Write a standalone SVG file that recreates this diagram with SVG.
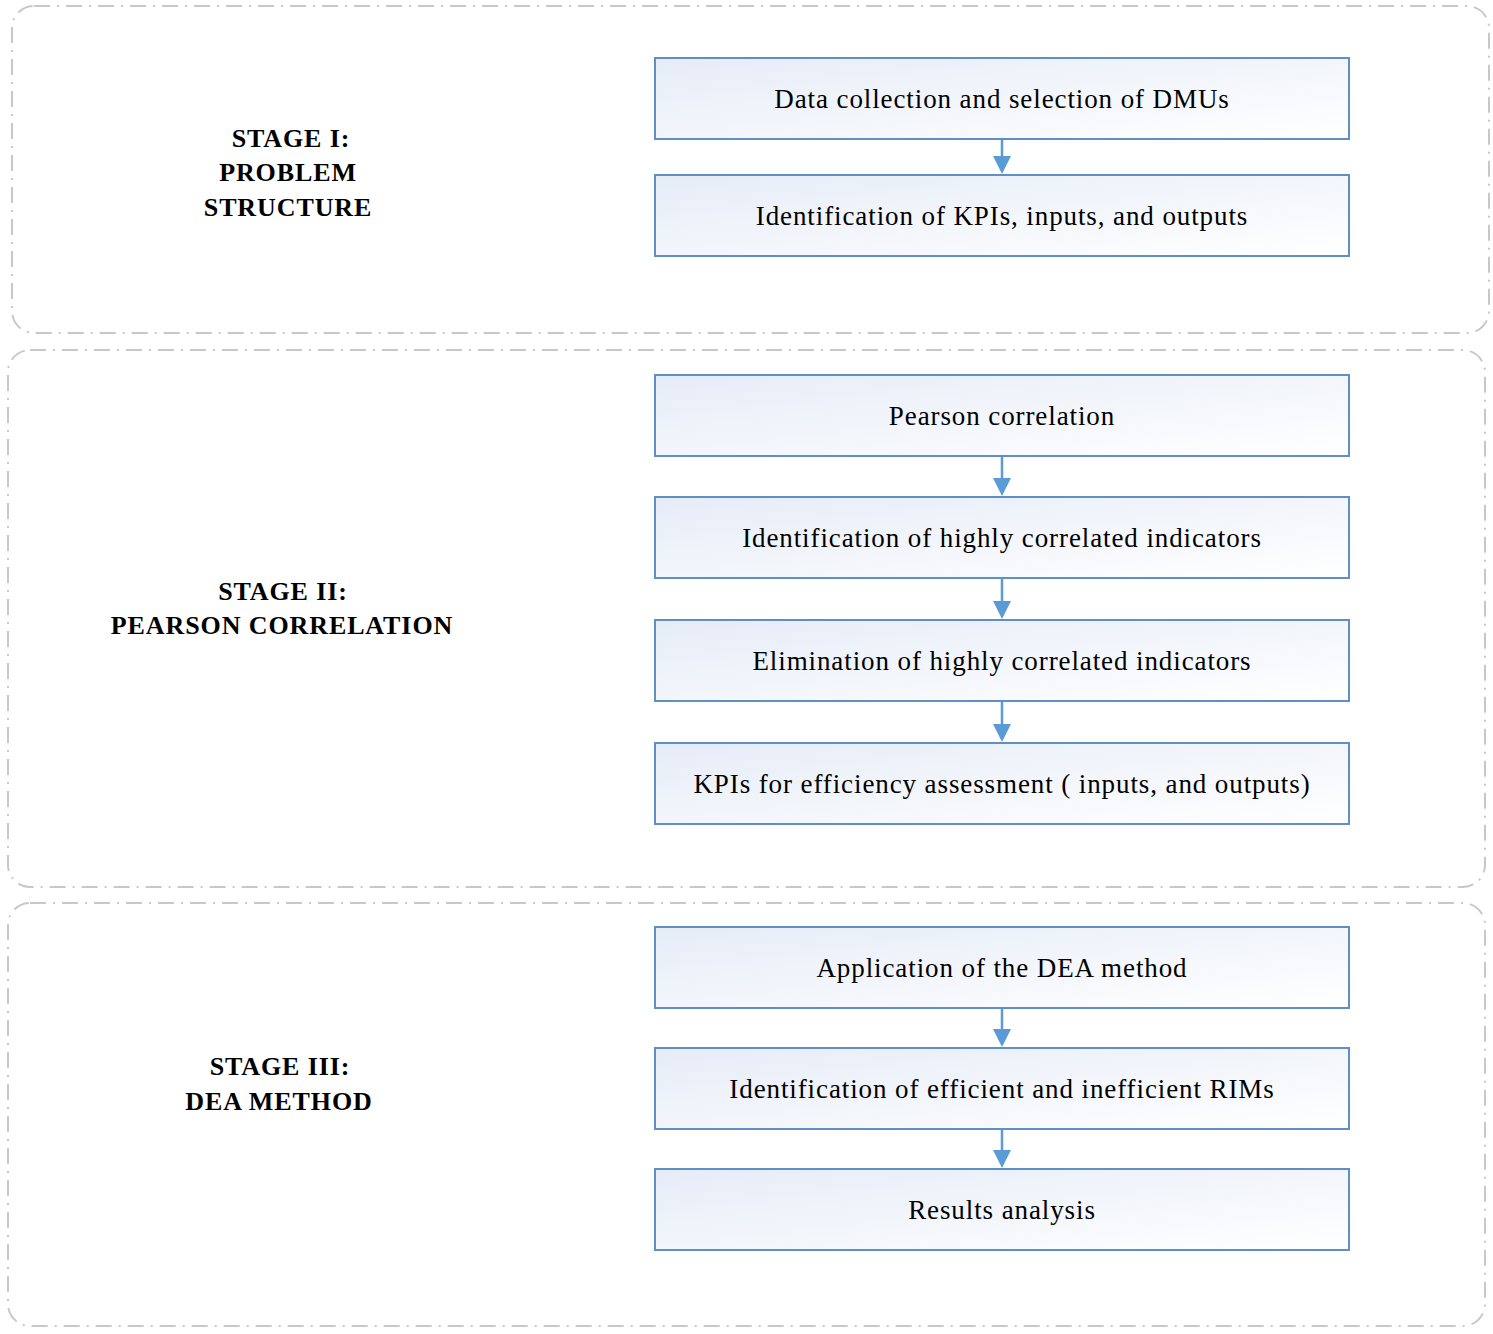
<svg xmlns="http://www.w3.org/2000/svg" width="1493" height="1334" viewBox="0 0 1493 1334">
<style>
.stage{fill:none;stroke:#c8c8c8;stroke-width:2;stroke-dasharray:16 7 2 7}
.box{fill:url(#g);stroke:#5f8fc6;stroke-width:2}
.t{font-family:"Liberation Serif","DejaVu Serif",serif;font-size:27px;letter-spacing:0.9px;fill:#000;text-anchor:middle}
.s{font-family:"Liberation Serif","DejaVu Serif",serif;font-size:26px;letter-spacing:0.9px;font-weight:bold;fill:#000;text-anchor:middle}
.c{stroke:#5b9bd5;stroke-width:2.5;fill:none}
.h{fill:#5b9bd5}
</style>
<defs>
<linearGradient id="g" x1="0" y1="0" x2="1" y2="1">
<stop offset="0" stop-color="#e6ecf7"/>
<stop offset="1" stop-color="#ffffff"/>
</linearGradient>
</defs>
<g id="stage1">
<rect class="stage" x="12" y="6" width="1477" height="327" rx="22"/>
<text class="s" x="291" y="147">STAGE I:</text>
<text class="s" x="288" y="181">PROBLEM</text>
<text class="s" x="288" y="216">STRUCTURE</text>
</g>
<g id="stage2">
<rect class="stage" x="8" y="350" width="1477" height="537" rx="22"/>
<text class="s" x="283" y="600">STAGE II:</text>
<text class="s" x="282" y="634">PEARSON CORRELATION</text>
</g>
<g id="stage3">
<rect class="stage" x="8" y="903" width="1477" height="423" rx="22"/>
<text class="s" x="280" y="1075">STAGE III:</text>
<text class="s" x="279" y="1110">DEA METHOD</text>
</g>
<g id="connectors">
<path class="c" d="M1002 139 V156"/><path class="h" d="M993 156 L1011 156 L1002 174 z"/>
<path class="c" d="M1002 456 V478"/><path class="h" d="M993 478 L1011 478 L1002 496 z"/>
<path class="c" d="M1002 578 V601"/><path class="h" d="M993 601 L1011 601 L1002 619 z"/>
<path class="c" d="M1002 701 V724"/><path class="h" d="M993 724 L1011 724 L1002 742 z"/>
<path class="c" d="M1002 1008 V1029"/><path class="h" d="M993 1029 L1011 1029 L1002 1047 z"/>
<path class="c" d="M1002 1129 V1150"/><path class="h" d="M993 1150 L1011 1150 L1002 1168 z"/>
</g>
<g id="n1"><rect class="box" x="655" y="58" width="694" height="81"/><text class="t" x="1002" y="108">Data collection and selection of DMUs</text></g>
<g id="n2"><rect class="box" x="655" y="175" width="694" height="81"/><text class="t" x="1002" y="225">Identification of KPIs, inputs, and outputs</text></g>
<g id="n3"><rect class="box" x="655" y="375" width="694" height="81"/><text class="t" x="1002" y="425">Pearson correlation</text></g>
<g id="n4"><rect class="box" x="655" y="497" width="694" height="81"/><text class="t" x="1002" y="547">Identification of highly correlated indicators</text></g>
<g id="n5"><rect class="box" x="655" y="620" width="694" height="81"/><text class="t" x="1002" y="670">Elimination of highly correlated indicators</text></g>
<g id="n6"><rect class="box" x="655" y="743" width="694" height="81"/><text class="t" x="1002" y="793">KPIs for efficiency assessment ( inputs, and outputs)</text></g>
<g id="n7"><rect class="box" x="655" y="927" width="694" height="81"/><text class="t" x="1002" y="977">Application of the DEA method</text></g>
<g id="n8"><rect class="box" x="655" y="1048" width="694" height="81"/><text class="t" x="1002" y="1098">Identification of efficient and inefficient RIMs</text></g>
<g id="n9"><rect class="box" x="655" y="1169" width="694" height="81"/><text class="t" x="1002" y="1219">Results analysis</text></g>
</svg>
